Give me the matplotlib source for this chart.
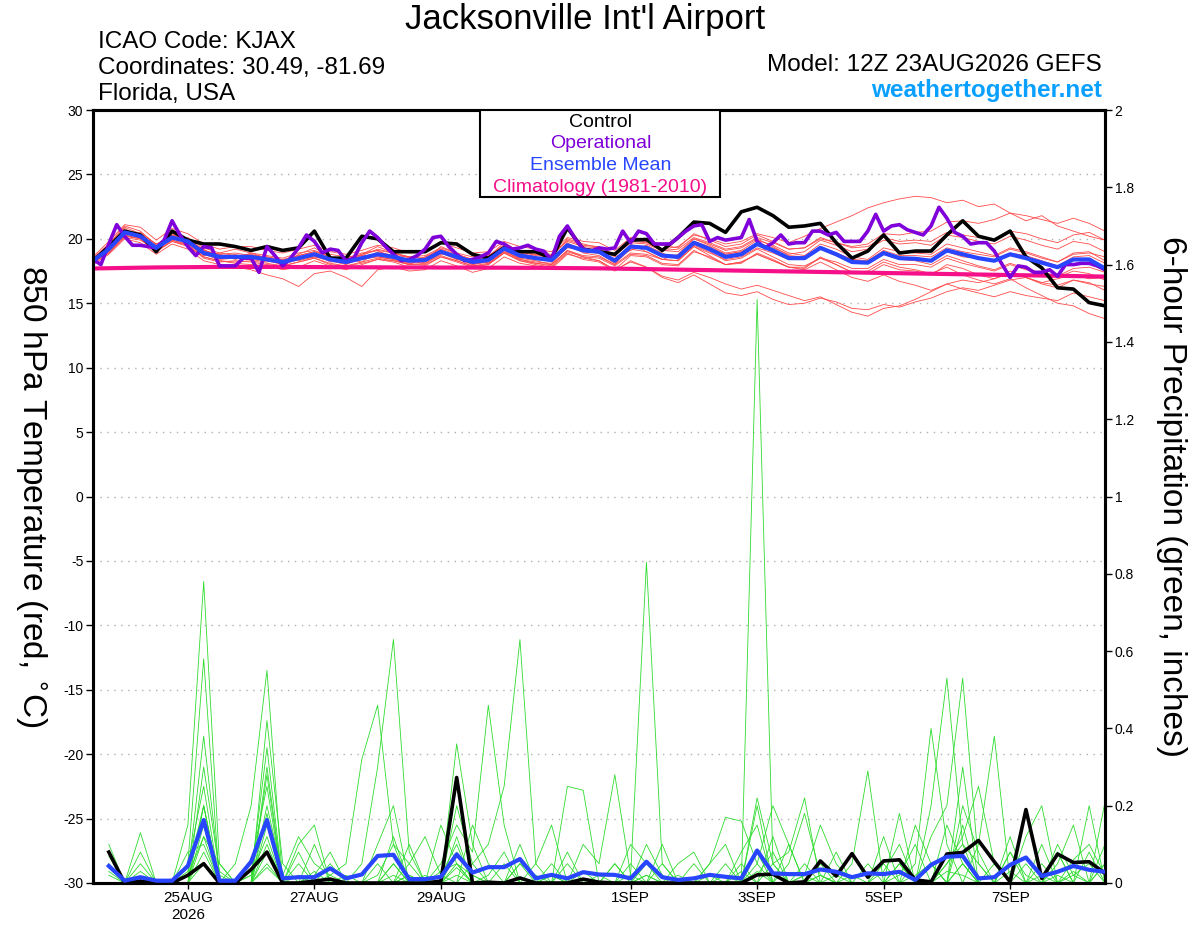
import matplotlib
matplotlib.use("Agg")
import matplotlib.pyplot as plt
from matplotlib.patches import Rectangle
from matplotlib.ticker import FuncFormatter
import numpy as np
import pandas as pd

# GEFS 12Z 23AUG2026 run, 6-hourly to 384 h (operational is 3-hourly)
times = pd.date_range("2026-08-23 12:00", periods=65, freq="6h").to_pydatetime()
times_op = pd.date_range("2026-08-23 12:00", periods=129, freq="3h").to_pydatetime()

tick_days = ["2026-08-25", "2026-08-27", "2026-08-29", "2026-09-01",
             "2026-09-03", "2026-09-05", "2026-09-07"]
tick_labels = ["25AUG\n2026", "27AUG", "29AUG", "1SEP", "3SEP", "5SEP", "7SEP"]

# 850 hPa temperature (C)
control_t = [18.27, 19.4, 20.6, 20.3, 19.0, 20.6, 19.9, 19.6, 19.6, 19.4, 19.1, 19.4, 19.1,
             19.3, 20.6, 18.5, 18.5, 20.2, 20.0, 19.0, 19.0, 19.0, 19.7, 19.6, 18.8, 18.5,
             19.3, 19.0, 19.0, 18.5, 20.85, 19.2, 19.0, 18.8, 19.9, 19.95, 19.1, 20.1, 21.3,
             21.2, 20.5, 22.1, 22.45, 21.8, 20.9, 21.0, 21.2, 19.7, 18.5, 19.05, 20.3, 18.9,
             19.05, 19.05, 20.3, 21.4, 20.2, 19.9, 20.6, 18.6, 17.75, 16.2, 16.1, 15.05, 14.8]

mean_t = [18.3, 19.2, 20.5, 20.2, 19.3, 20.1, 19.8, 18.9, 18.6, 18.6, 18.6, 18.4, 18.2,
          18.5, 18.8, 18.4, 18.2, 18.5, 18.8, 18.6, 18.3, 18.35, 19.0, 18.6, 18.2, 18.35,
          19.25, 18.7, 18.5, 18.35, 19.5, 19.1, 19.0, 18.3, 19.4, 19.3, 18.7, 18.6, 19.7,
          19.2, 18.6, 18.8, 19.6, 19.1, 18.5, 18.5, 19.3, 18.8, 18.2, 18.15, 18.9, 18.5,
          18.45, 18.3, 19.1, 18.8, 18.5, 18.3, 18.8, 18.5, 18.15, 17.8, 18.4, 18.4, 17.7]

clim_t = [17.70, 17.72, 17.74, 17.76, 17.78, 17.79, 17.80, 17.81, 17.82, 17.82, 17.82, 17.82, 17.82,
          17.81, 17.81, 17.80, 17.80, 17.79, 17.79, 17.78, 17.78, 17.78, 17.77, 17.77, 17.77, 17.76,
          17.76, 17.75, 17.75, 17.74, 17.73, 17.72, 17.71, 17.69, 17.67, 17.65, 17.63, 17.61, 17.59,
          17.57, 17.55, 17.53, 17.51, 17.49, 17.47, 17.45, 17.43, 17.41, 17.39, 17.37, 17.35, 17.33,
          17.31, 17.29, 17.27, 17.25, 17.23, 17.21, 17.19, 17.17, 17.15, 17.13, 17.11, 17.09, 17.07]

oper_t = [18.4, 18.0, 19.6, 21.1, 20.2, 19.5, 19.5, 19.4, 19.3, 19.9, 21.4, 20.3, 19.4, 18.7, 19.4, 19.3,
          17.9, 17.9, 17.9, 18.5, 18.5, 17.4, 19.4, 18.7, 17.9, 18.5, 19.3, 20.3, 19.8, 18.9, 19.2, 19.1,
          18.3, 18.5, 19.7, 20.6, 20.1, 19.4, 18.8, 18.3, 18.4, 18.7, 19.2, 20.1, 20.2, 19.4, 18.8, 18.3,
          18.4, 18.6, 18.9, 19.8, 19.6, 19.2, 19.3, 19.5, 19.2, 19.05, 18.4, 20.2, 21.0, 20.0, 19.2, 19.05,
          19.3, 19.2, 19.3, 20.6, 19.7, 20.6, 20.4, 19.6, 19.6, 19.6, 20.1, 20.6, 21.0, 21.1, 19.8, 20.1,
          19.9, 20.0, 20.1, 21.5, 19.8, 19.3, 19.7, 20.3, 19.6, 19.7, 19.7, 20.6, 20.6, 20.3, 20.5, 19.8,
          19.8, 19.8, 20.6, 21.9, 20.6, 21.0, 21.1, 20.7, 20.5, 20.3, 21.0, 22.45, 21.6, 20.5, 20.2, 19.6,
          19.7, 19.7, 19.05, 18.0, 17.0, 17.9, 17.8, 17.4, 17.4, 17.6, 17.1, 18.0, 18.0, 18.1, 18.1, 17.9,
          17.6]

member_t = [
    [18.5, 19.6, 21.0, 20.6, 19.5, 20.4, 19.6, 18.7, 18.9, 19.2, 18.9, 18.5, 18.0,
     18.8, 19.3, 18.6, 18.0, 18.8, 19.4, 18.9, 18.5, 18.3, 19.4, 18.9, 18.1, 18.6,
     19.7, 19.0, 18.7, 18.6, 20.0, 19.6, 19.3, 18.8, 19.9, 19.8, 19.2, 19.4, 20.3,
     20.0, 19.6, 19.8, 20.4, 20.1, 19.7, 20.2, 20.8, 21.3, 21.8, 22.4, 22.8, 23.1,
     23.3, 23.2, 22.8, 23.0, 22.5, 22.7, 22.0, 21.4, 21.8, 21.0, 20.6, 20.2, 19.9],
    [18.1, 18.9, 20.2, 20.0, 19.0, 19.8, 19.5, 18.6, 18.3, 18.1, 18.0, 17.9, 17.6,
     17.8, 18.3, 17.9, 17.6, 18.0, 18.4, 18.2, 17.8, 17.9, 18.6, 18.2, 17.8, 18.0,
     18.9, 18.3, 18.0, 17.8, 18.9, 18.4, 18.2, 17.5, 18.3, 17.8, 17.0, 16.6, 17.2,
     16.5, 15.8, 15.6, 15.9, 15.3, 14.9, 15.0, 15.4, 15.1, 14.6, 14.5, 14.9, 14.7,
     15.1, 15.4, 15.9, 16.2, 16.0, 16.4, 16.8, 17.0, 16.6, 16.9, 17.2, 16.9, 17.0],
    [18.4, 19.0, 20.3, 20.4, 19.6, 20.0, 20.0, 19.1, 18.8, 18.4, 18.7, 18.6, 18.3,
     18.6, 18.9, 18.2, 18.3, 18.7, 18.6, 18.4, 18.0, 18.6, 19.2, 18.4, 18.3, 18.5,
     19.5, 18.9, 18.6, 18.2, 19.3, 19.2, 19.2, 18.6, 19.1, 19.5, 18.9, 18.4, 19.5,
     19.0, 18.3, 18.5, 19.2, 18.6, 18.0, 17.9, 18.5, 18.0, 17.4, 17.5, 18.2, 17.8,
     17.6, 17.3, 17.8, 17.2, 16.8, 16.5, 16.9, 16.2, 15.6, 15.0, 14.8, 14.2, 13.8],
    [18.2, 19.4, 20.8, 20.1, 19.1, 20.3, 19.9, 19.2, 18.5, 18.8, 18.4, 18.2, 18.4,
     18.3, 18.6, 18.5, 18.4, 18.2, 19.0, 18.7, 18.6, 18.1, 18.8, 18.8, 18.4, 18.1,
     19.0, 18.5, 18.8, 18.5, 19.7, 18.9, 18.7, 18.0, 19.6, 19.0, 18.4, 18.8, 20.0,
     19.5, 18.9, 19.1, 19.9, 19.5, 18.9, 18.7, 19.6, 19.2, 18.6, 18.4, 19.3, 19.0,
     18.9, 18.8, 19.6, 19.3, 19.0, 18.7, 19.3, 19.0, 18.6, 18.2, 18.9, 19.0, 18.3],
    [18.0, 18.8, 20.0, 19.7, 18.8, 19.6, 19.2, 18.3, 18.0, 17.8, 17.6, 17.2, 16.9,
     16.3, 17.3, 17.5, 17.0, 16.3, 17.6, 17.8, 17.5, 17.6, 18.3, 17.9, 17.4, 17.7,
     18.6, 18.1, 17.9, 17.7, 18.8, 18.5, 18.3, 17.6, 18.7, 18.6, 18.0, 17.9, 19.0,
     18.6, 18.0, 18.1, 18.9, 18.4, 17.8, 17.7, 18.6, 18.0, 17.4, 17.3, 18.0, 17.6,
     17.5, 17.2, 18.0, 17.7, 17.2, 16.9, 17.5, 17.0, 16.5, 16.2, 16.8, 16.6, 16.0],
    [18.6, 19.8, 21.1, 20.9, 19.9, 20.8, 20.4, 19.6, 19.2, 19.4, 19.4, 19.1, 18.9,
     19.2, 19.5, 19.0, 18.8, 19.1, 19.5, 19.3, 18.9, 19.0, 19.7, 19.3, 18.9, 19.0,
     19.8, 19.4, 19.2, 19.0, 20.1, 19.8, 19.7, 19.1, 20.1, 20.0, 19.5, 19.3, 20.4,
     19.9, 19.4, 19.6, 20.3, 19.8, 19.2, 19.3, 20.1, 19.7, 19.3, 19.4, 20.1, 19.8,
     19.9, 19.8, 20.5, 20.3, 20.1, 20.0, 20.6, 20.4, 20.0, 19.7, 20.3, 20.5, 19.9],
    [18.3, 19.1, 20.6, 20.3, 19.4, 19.9, 19.6, 18.8, 18.7, 18.5, 18.9, 18.7, 18.5,
     18.9, 19.1, 18.6, 18.5, 18.9, 19.1, 18.5, 18.2, 18.6, 19.1, 18.5, 18.0, 18.2,
     19.1, 18.4, 18.2, 18.1, 19.4, 19.0, 18.9, 18.2, 19.3, 19.4, 18.8, 18.7, 19.8,
     19.4, 18.8, 19.0, 19.7, 19.3, 18.8, 19.0, 19.9, 19.5, 19.0, 19.2, 19.9, 19.6,
     19.7, 19.5, 20.3, 20.1, 19.8, 19.6, 20.2, 19.9, 19.5, 19.2, 19.8, 19.6, 19.0],
    [18.2, 19.0, 20.3, 20.0, 19.2, 20.0, 19.7, 18.8, 18.4, 18.5, 18.5, 18.3, 18.1,
     18.4, 18.6, 18.3, 18.1, 18.4, 18.6, 18.4, 18.1, 18.2, 18.9, 18.4, 18.1, 18.2,
     19.0, 18.5, 18.3, 18.0, 19.1, 18.6, 18.3, 17.6, 18.2, 17.8, 17.1, 16.8, 17.4,
     17.0, 16.5, 16.1, 16.4, 16.0, 15.6, 15.2, 15.5, 14.9, 14.3, 14.0, 14.6, 14.8,
     15.3, 15.9, 16.5, 16.8, 16.6, 16.9, 17.3, 17.0, 16.6, 16.4, 16.8, 16.5, 16.3],
    [18.4, 19.3, 20.4, 20.5, 19.6, 20.2, 20.1, 19.3, 18.9, 18.7, 18.8, 18.5, 18.3,
     18.7, 19.0, 18.8, 18.6, 18.7, 19.2, 18.9, 18.6, 18.7, 19.3, 18.9, 18.6, 18.7,
     19.5, 19.1, 18.9, 18.8, 19.8, 19.4, 19.3, 18.8, 19.8, 19.7, 19.1, 19.0, 20.0,
     19.6, 19.1, 19.3, 20.0, 19.4, 18.7, 18.6, 19.3, 18.9, 18.4, 18.2, 18.8, 18.4,
     18.3, 18.0, 18.7, 18.3, 17.9, 17.6, 18.1, 17.7, 17.3, 17.0, 17.5, 17.3, 16.8],
    [18.1, 19.1, 20.7, 20.0, 19.0, 19.9, 19.5, 18.5, 18.2, 18.3, 18.2, 18.0, 17.9,
     18.2, 18.5, 18.0, 17.9, 18.1, 18.4, 18.3, 18.0, 18.0, 18.6, 18.3, 17.9, 18.0,
     18.9, 18.4, 18.1, 18.0, 19.1, 18.7, 18.6, 18.0, 18.9, 18.8, 18.4, 18.3, 19.4,
     18.9, 18.4, 18.6, 19.3, 18.9, 18.4, 18.5, 19.2, 18.7, 18.2, 18.1, 18.8, 18.4,
     18.4, 18.4, 19.0, 18.6, 18.5, 18.3, 18.9, 18.7, 18.3, 17.9, 18.6, 18.7, 18.1],
    [18.5, 19.5, 20.9, 20.4, 19.4, 20.3, 20.0, 19.0, 18.8, 18.9, 18.7, 18.6, 18.4,
     18.7, 19.0, 18.6, 18.4, 18.8, 19.1, 18.9, 18.6, 18.5, 19.2, 18.8, 18.4, 18.6,
     19.5, 19.0, 18.8, 18.7, 19.9, 19.5, 19.4, 18.7, 19.7, 19.6, 19.1, 19.2, 20.1,
     19.7, 19.2, 19.4, 20.1, 19.7, 19.2, 19.3, 20.0, 19.7, 19.4, 19.6, 20.4, 20.3,
     20.5, 20.6, 21.3, 21.4, 21.2, 21.5, 22.0, 21.8, 21.5, 21.2, 21.6, 21.2, 20.6],
    [18.3, 19.3, 20.2, 20.1, 19.2, 20.1, 19.7, 18.9, 18.5, 18.7, 18.5, 18.3, 18.0,
     18.4, 18.7, 18.3, 18.0, 18.5, 18.7, 18.5, 18.1, 18.3, 18.9, 18.5, 18.0, 18.3,
     19.2, 18.6, 18.4, 18.3, 19.4, 19.0, 18.9, 18.1, 19.2, 19.0, 18.4, 18.3, 19.4,
     18.7, 18.0, 18.2, 18.8, 18.3, 17.8, 17.8, 18.5, 18.2, 17.7, 17.7, 18.4, 18.0,
     18.0, 17.8, 18.5, 18.1, 17.8, 17.5, 18.0, 17.6, 17.4, 17.1, 17.7, 17.8, 17.4],
    [18.4, 19.2, 20.6, 20.3, 19.4, 20.2, 19.9, 19.1, 18.7, 18.6, 18.6, 18.4, 18.2,
     18.5, 18.9, 18.4, 18.2, 18.6, 18.9, 18.6, 18.3, 18.4, 19.0, 18.6, 18.2, 18.4,
     19.3, 18.8, 18.5, 18.4, 19.6, 19.2, 19.1, 18.4, 19.5, 19.4, 18.8, 18.7, 19.8,
     19.3, 18.8, 19.0, 19.6, 19.2, 18.6, 18.6, 19.4, 18.9, 18.4, 18.3, 19.1, 18.7,
     18.7, 18.6, 19.3, 19.0, 18.8, 18.6, 19.2, 18.9, 18.5, 18.2, 18.8, 18.9, 18.6],
    [18.2, 18.9, 20.1, 19.9, 19.1, 19.8, 19.4, 18.6, 18.3, 18.2, 18.3, 18.1, 17.9,
     18.2, 18.5, 18.1, 17.9, 18.2, 18.5, 18.3, 18.0, 18.1, 18.7, 18.3, 17.9, 18.1,
     18.9, 18.3, 18.1, 17.9, 19.0, 18.6, 18.5, 17.9, 18.8, 18.7, 18.1, 18.0, 19.1,
     18.5, 18.0, 18.2, 18.8, 18.3, 17.8, 17.6, 18.2, 17.6, 17.0, 16.7, 17.2, 16.7,
     16.4, 16.0, 16.5, 16.1, 15.8, 15.5, 15.9, 15.6, 15.4, 15.2, 15.8, 15.5, 15.2],
]

# 6-hour precipitation (inches), valid from +6 h onward
control_p = [0.08, 0.0, 0.005, 0.0, 0.0, 0.02, 0.05, 0.0, 0.0, 0.035, 0.08, 0.0, 0.0, 0.005, 0.01, 0.0,
             0.0, 0.0, 0.0, 0.0, 0.0, 0.005, 0.273, 0.0, 0.002, 0.0, 0.013, 0.0, 0.0, 0.0, 0.01, 0.002,
             0.0, 0.0, 0.0, 0.0, 0.0, 0.0, 0.0, 0.0, 0.0, 0.021, 0.023, 0.0, 0.003, 0.057, 0.018, 0.076,
             0.015, 0.057, 0.06, 0.008, 0.003, 0.075, 0.079, 0.11, 0.055, 0.003, 0.19, 0.012, 0.075, 0.053, 0.055, 0.025]

mean_p = [0.044, 0.006, 0.015, 0.006, 0.006, 0.044, 0.163, 0.006, 0.006, 0.055, 0.163, 0.012, 0.015, 0.015, 0.038, 0.012,
          0.022, 0.07, 0.073, 0.01, 0.01, 0.016, 0.074, 0.027, 0.041, 0.041, 0.062, 0.012, 0.021, 0.012, 0.028, 0.022,
          0.021, 0.012, 0.055, 0.015, 0.008, 0.012, 0.021, 0.016, 0.012, 0.084, 0.025, 0.023, 0.023, 0.035, 0.029, 0.015,
          0.025, 0.023, 0.029, 0.008, 0.047, 0.068, 0.07, 0.012, 0.015, 0.047, 0.066, 0.018, 0.029, 0.044, 0.034, 0.029]

member_p = [
    [0.0, 0.0, 0.0, 0.0, 0.0, 0.15, 0.78, 0.05, 0.0, 0.02, 0.12, 0.0, 0.0, 0.03, 0.0, 0.0,
     0.0, 0.02, 0.1, 0.05, 0.0, 0.0, 0.04, 0.0, 0.02, 0.08, 0.0, 0.0, 0.0, 0.05, 0.0, 0.0,
     0.0, 0.0, 0.02, 0.0, 0.0, 0.0, 0.05, 0.1, 0.0, 1.51, 0.05, 0.0, 0.02, 0.0, 0.08, 0.0,
     0.0, 0.03, 0.1, 0.0, 0.0, 0.15, 0.05, 0.0, 0.0, 0.08, 0.02, 0.0, 0.0, 0.06, 0.1, 0.02],
    [0.05, 0.0, 0.13, 0.0, 0.0, 0.0, 0.2, 0.0, 0.05, 0.2, 0.55, 0.0, 0.08, 0.0, 0.02, 0.0,
     0.0, 0.05, 0.0, 0.02, 0.0, 0.0, 0.08, 0.02, 0.0, 0.0, 0.1, 0.0, 0.0, 0.0, 0.03, 0.0,
     0.0, 0.02, 0.83, 0.05, 0.0, 0.0, 0.02, 0.0, 0.0, 0.08, 0.0, 0.1, 0.0, 0.0, 0.0, 0.0,
     0.05, 0.0, 0.02, 0.1, 0.0, 0.0, 0.2, 0.08, 0.0, 0.0, 0.05, 0.0, 0.1, 0.02, 0.0, 0.0],
    [0.1, 0.0, 0.0, 0.0, 0.0, 0.05, 0.58, 0.0, 0.0, 0.05, 0.25, 0.0, 0.0, 0.1, 0.0, 0.0,
     0.05, 0.3, 0.63, 0.08, 0.0, 0.02, 0.1, 0.0, 0.0, 0.05, 0.0, 0.0, 0.02, 0.0, 0.0, 0.0,
     0.05, 0.0, 0.0, 0.1, 0.0, 0.0, 0.0, 0.02, 0.0, 0.2, 0.0, 0.0, 0.05, 0.0, 0.0, 0.02,
     0.0, 0.0, 0.05, 0.0, 0.12, 0.2, 0.53, 0.05, 0.0, 0.03, 0.0, 0.0, 0.08, 0.0, 0.0, 0.05],
    [0.0, 0.0, 0.08, 0.0, 0.0, 0.02, 0.38, 0.02, 0.0, 0.0, 0.42, 0.05, 0.0, 0.0, 0.05, 0.0,
     0.0, 0.0, 0.05, 0.0, 0.0, 0.0, 0.0, 0.05, 0.1, 0.25, 0.63, 0.05, 0.0, 0.0, 0.0, 0.0,
     0.0, 0.0, 0.02, 0.0, 0.05, 0.08, 0.0, 0.0, 0.05, 0.0, 0.12, 0.0, 0.0, 0.05, 0.0, 0.0,
     0.0, 0.05, 0.0, 0.0, 0.2, 0.53, 0.1, 0.0, 0.05, 0.0, 0.0, 0.1, 0.0, 0.02, 0.05, 0.0],
    [0.07, 0.0, 0.0, 0.0, 0.0, 0.05, 0.25, 0.0, 0.0, 0.02, 0.35, 0.0, 0.1, 0.15, 0.0, 0.0,
     0.0, 0.1, 0.2, 0.0, 0.0, 0.05, 0.15, 0.08, 0.46, 0.15, 0.0, 0.0, 0.05, 0.0, 0.0, 0.02,
     0.0, 0.05, 0.0, 0.0, 0.02, 0.0, 0.0, 0.0, 0.0, 0.0, 0.0, 0.05, 0.18, 0.02, 0.0, 0.0,
     0.0, 0.0, 0.0, 0.02, 0.05, 0.0, 0.0, 0.1, 0.38, 0.0, 0.0, 0.0, 0.02, 0.0, 0.08, 0.0],
    [0.03, 0.0, 0.0, 0.0, 0.0, 0.0, 0.3, 0.03, 0.0, 0.0, 0.28, 0.0, 0.05, 0.0, 0.0, 0.02,
     0.0, 0.0, 0.05, 0.0, 0.02, 0.0, 0.36, 0.1, 0.0, 0.0, 0.05, 0.0, 0.0, 0.0, 0.0, 0.0,
     0.0, 0.0, 0.1, 0.02, 0.0, 0.0, 0.0, 0.05, 0.0, 0.02, 0.08, 0.0, 0.0, 0.0, 0.0, 0.05,
     0.29, 0.0, 0.0, 0.05, 0.4, 0.1, 0.0, 0.0, 0.0, 0.0, 0.0, 0.05, 0.0, 0.0, 0.0, 0.1],
    [0.02, 0.0, 0.03, 0.0, 0.0, 0.0, 0.2, 0.0, 0.0, 0.0, 0.2, 0.02, 0.12, 0.05, 0.02, 0.05,
     0.32, 0.46, 0.1, 0.0, 0.0, 0.03, 0.05, 0.0, 0.0, 0.0, 0.0, 0.0, 0.0, 0.0, 0.1, 0.05,
     0.28, 0.02, 0.0, 0.0, 0.0, 0.05, 0.0, 0.0, 0.03, 0.0, 0.0, 0.0, 0.02, 0.15, 0.05, 0.0,
     0.0, 0.0, 0.0, 0.0, 0.0, 0.05, 0.12, 0.25, 0.05, 0.0, 0.0, 0.0, 0.0, 0.03, 0.0, 0.0],
    [0.0, 0.0, 0.0, 0.0, 0.0, 0.0, 0.15, 0.0, 0.0, 0.0, 0.15, 0.0, 0.0, 0.02, 0.08, 0.0,
     0.0, 0.0, 0.0, 0.05, 0.12, 0.02, 0.0, 0.0, 0.0, 0.0, 0.05, 0.02, 0.0, 0.25, 0.24, 0.0,
     0.0, 0.0, 0.05, 0.02, 0.0, 0.0, 0.05, 0.17, 0.16, 0.05, 0.0, 0.0, 0.0, 0.02, 0.0, 0.0,
     0.0, 0.12, 0.0, 0.0, 0.0, 0.05, 0.1, 0.05, 0.0, 0.0, 0.12, 0.2, 0.0, 0.0, 0.0, 0.21],
    [0.0, 0.0, 0.05, 0.0, 0.0, 0.02, 0.12, 0.0, 0.0, 0.0, 0.1, 0.0, 0.0, 0.0, 0.0, 0.0,
     0.0, 0.0, 0.0, 0.02, 0.0, 0.0, 0.2, 0.05, 0.0, 0.0, 0.0, 0.05, 0.15, 0.0, 0.0, 0.0,
     0.0, 0.1, 0.05, 0.0, 0.0, 0.0, 0.0, 0.0, 0.0, 0.05, 0.2, 0.1, 0.0, 0.0, 0.02, 0.0,
     0.0, 0.0, 0.18, 0.0, 0.0, 0.0, 0.3, 0.0, 0.0, 0.0, 0.0, 0.02, 0.0, 0.0, 0.0, 0.0],
    [0.0, 0.0, 0.0, 0.0, 0.0, 0.08, 0.1, 0.0, 0.0, 0.0, 0.08, 0.0, 0.0, 0.0, 0.0, 0.0,
     0.0, 0.0, 0.12, 0.0, 0.0, 0.15, 0.05, 0.0, 0.0, 0.0, 0.0, 0.0, 0.0, 0.0, 0.0, 0.0,
     0.0, 0.0, 0.0, 0.05, 0.0, 0.0, 0.0, 0.0, 0.08, 0.15, 0.0, 0.0, 0.0, 0.0, 0.0, 0.0,
     0.0, 0.0, 0.0, 0.15, 0.05, 0.0, 0.05, 0.0, 0.0, 0.08, 0.0, 0.0, 0.0, 0.0, 0.2, 0.0],
    [0.0, 0.0, 0.0, 0.0, 0.0, 0.0, 0.08, 0.0, 0.0, 0.0, 0.05, 0.0, 0.02, 0.0, 0.0, 0.0,
     0.0, 0.0, 0.0, 0.1, 0.0, 0.0, 0.0, 0.15, 0.05, 0.0, 0.0, 0.0, 0.02, 0.0, 0.0, 0.0,
     0.05, 0.0, 0.0, 0.0, 0.0, 0.0, 0.0, 0.0, 0.0, 0.0, 0.05, 0.0, 0.0, 0.02, 0.0, 0.0,
     0.0, 0.0, 0.0, 0.0, 0.05, 0.0, 0.05, 0.0, 0.0, 0.0, 0.0, 0.0, 0.08, 0.0, 0.0, 0.05],
    [0.0, 0.0, 0.0, 0.0, 0.0, 0.0, 0.05, 0.0, 0.0, 0.0, 0.04, 0.0, 0.0, 0.0, 0.0, 0.0,
     0.0, 0.0, 0.02, 0.0, 0.0, 0.0, 0.02, 0.0, 0.0, 0.0, 0.0, 0.0, 0.0, 0.0, 0.0, 0.0,
     0.0, 0.0, 0.0, 0.0, 0.0, 0.0, 0.0, 0.0, 0.0, 0.03, 0.0, 0.0, 0.0, 0.0, 0.0, 0.0,
     0.0, 0.0, 0.0, 0.0, 0.0, 0.03, 0.02, 0.0, 0.0, 0.0, 0.0, 0.0, 0.0, 0.0, 0.0, 0.0],
    [0.0, 0.0, 0.0, 0.0, 0.0, 0.0, 0.12, 0.05, 0.0, 0.0, 0.3, 0.0, 0.0, 0.0, 0.0, 0.0,
     0.0, 0.0, 0.0, 0.0, 0.0, 0.0, 0.12, 0.0, 0.0, 0.0, 0.0, 0.0, 0.0, 0.0, 0.0, 0.0,
     0.0, 0.0, 0.0, 0.0, 0.0, 0.0, 0.0, 0.0, 0.0, 0.22, 0.05, 0.08, 0.22, 0.0, 0.0, 0.0,
     0.0, 0.0, 0.0, 0.0, 0.0, 0.0, 0.15, 0.0, 0.0, 0.12, 0.0, 0.0, 0.0, 0.0, 0.0, 0.0],
    [0.0, 0.0, 0.0, 0.0, 0.0, 0.03, 0.2, 0.0, 0.0, 0.0, 0.18, 0.0, 0.0, 0.0, 0.0, 0.0,
     0.0, 0.0, 0.0, 0.0, 0.0, 0.0, 0.05, 0.02, 0.0, 0.0, 0.0, 0.0, 0.0, 0.08, 0.0, 0.0,
     0.0, 0.0, 0.0, 0.0, 0.0, 0.0, 0.0, 0.0, 0.0, 0.0, 0.0, 0.0, 0.0, 0.0, 0.0, 0.0,
     0.0, 0.0, 0.05, 0.0, 0.0, 0.0, 0.0, 0.0, 0.0, 0.0, 0.0, 0.0, 0.05, 0.15, 0.0, 0.0],
]

plt.rcParams['font.family'] = ['Liberation Sans', 'DejaVu Sans']
plt.rcParams['axes.unicode_minus'] = False

fig = plt.figure(figsize=(12, 9.27), dpi=100)
ax = fig.add_axes([93 / 1200, 1 - 883 / 927, 1012 / 1200, 773 / 927])
ax2 = ax.twinx()

# temperature
for m in member_t:
    ax.plot(times, m, color='#ff4a4a', lw=0.6, zorder=2)
ax.plot(times, clim_t, color='#f5108a', lw=3, zorder=3)
ax.plot(times, control_t, color='black', lw=2.6, zorder=4)
ax.plot(times_op, oper_t, color='#7f00d9', lw=2.6, zorder=5)
ax.plot(times, mean_t, color='#2846ff', lw=3, zorder=6)

# precipitation
for m in member_p:
    ax2.plot(times[1:], m, color='#2fdc2f', lw=0.6, zorder=2)
ax2.plot(times[1:], control_p, color='black', lw=2.6, zorder=4)
ax2.plot(times[1:], mean_p, color='#2846ff', lw=3, zorder=6)

ax.set_xlim(times[0], times[-1])
ax.set_ylim(-30, 30)
ax2.set_ylim(0, 2)
ax.set_yticks(np.arange(-30, 31, 5))
ax2.set_yticks(np.arange(0, 2.01, 0.2))
ax2.yaxis.set_major_formatter(FuncFormatter(lambda v, p: '%g' % round(v, 1)))
ax.set_xticks(pd.to_datetime(tick_days).to_pydatetime())
ax.set_xticklabels(tick_labels)

ax.yaxis.grid(True, color='#b0b0b0', linestyle=(0, (1, 4)), lw=1)
ax.set_axisbelow(True)

for a in (ax, ax2):
    for s in a.spines.values():
        s.set_linewidth(2.2)
ax.tick_params(axis='y', direction='out', length=5, width=1, labelsize=10, pad=2)
ax2.tick_params(axis='y', direction='out', length=5, width=1, labelsize=10, pad=2)
ax.tick_params(axis='x', direction='out', length=4, width=1, labelsize=11, pad=2)

ax.set_ylabel('850 hPa Temperature (red, $^{\\circ}$C)', fontsize=24, rotation=270)
ax.yaxis.set_label_coords(-0.079, 0.5)
ax2.set_ylabel('6-hour Precipitation (green, inches)', fontsize=24, rotation=270)
ax2.yaxis.set_label_coords(1.081, 0.5)

# legend box
ax2.add_patch(Rectangle((0.3824, 0.8875), 0.237, 0.1125, transform=ax2.transAxes,
                        facecolor='white', edgecolor='black', lw=1.5, zorder=10))
leg_items = [('Control', 'black'), ('Operational', '#7f00d9'),
             ('Ensemble Mean', '#2846ff'), ('Climatology (1981-2010)', '#f5108a')]
for k, (txt, col) in enumerate(leg_items):
    ax2.text(0.5015, 1 - (16.7 + 21.6 * k) / 773, txt, color=col, fontsize=14,
             ha='center', va='baseline', transform=ax2.transAxes, zorder=11)

fig.text(585 / 1200, 1 - 29 / 927, "Jacksonville Int'l Airport", fontsize=25,
         ha='center', va='baseline')
fig.text(98 / 1200, 1 - 48 / 927, 'ICAO Code: KJAX', fontsize=17.5, va='baseline')
fig.text(98 / 1200, 1 - 74 / 927, 'Coordinates: 30.49, -81.69', fontsize=17.5, va='baseline')
fig.text(98 / 1200, 1 - 100 / 927, 'Florida, USA', fontsize=17.5, va='baseline')
fig.text(1102 / 1200, 1 - 71 / 927, 'Model: 12Z 23AUG2026 GEFS', fontsize=17.5,
         ha='right', va='baseline')
fig.text(1102 / 1200, 1 - 97 / 927, 'weathertogether.net', fontsize=17.5, color='#0aa0ff',
         fontweight='bold', ha='right', va='baseline')

fig.savefig('out.png', dpi=100)
